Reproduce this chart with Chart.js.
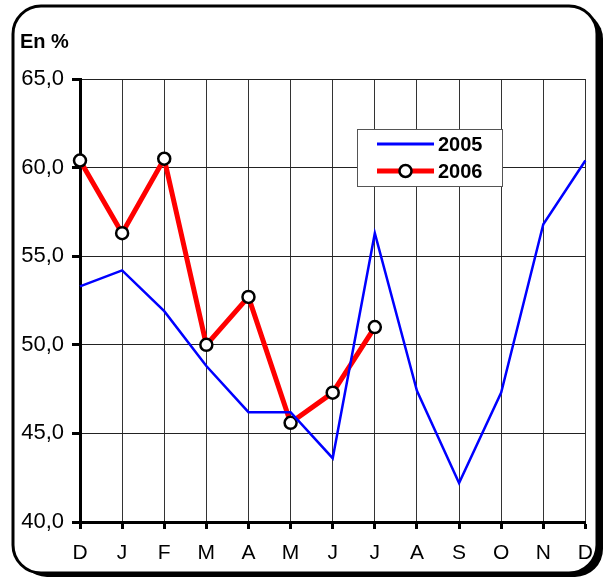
<!DOCTYPE html>
<html>
<head>
<meta charset="utf-8">
<script src="https://cdn.jsdelivr.net/npm/chart.js@4"></script>
<style>
  html, body { margin: 0; padding: 0; background: #fff; }
  #wrap { width: 605px; height: 578px; position: relative; }
</style>
</head>
<body>
<div id="wrap"><canvas id="unemploymentChart"></canvas></div>
<script>
const months = ["D", "J", "F", "M", "A", "M", "J", "J", "A", "S", "O", "N", "D"];
const values2005 = [53.3, 54.2, 51.9, 48.8, 46.2, 46.2, 43.6, 56.3, 47.4, 42.2, 47.3, 56.8, 60.4];
const values2006 = [60.4, 56.3, 60.5, 50.0, 52.7, 45.6, 47.3, 51.0];
const seriesNames = ["2005", "2006"];
const yMin = 40, yMax = 65, yStep = 5;
const unitLabel = "En %";

// rounded frame with black shadow behind the whole chart
const framePlugin = {
  id: "frame",
  beforeDraw: (chart) => {
    const ctx = chart.ctx;
    ctx.save();
    ctx.fillStyle = "#000";
    ctx.beginPath();
    ctx.roundRect(19, 11, 584, 566, 28);
    ctx.fill();
    ctx.fillStyle = "#fff";
    ctx.strokeStyle = "#000";
    ctx.lineWidth = 3;
    ctx.beginPath();
    ctx.roundRect(13, 6, 584, 567, 28);
    ctx.fill();
    ctx.stroke();
    // unit label
    ctx.fillStyle = "#000";
    ctx.font = "bold 20px 'Liberation Sans', Arial, sans-serif";
    ctx.textBaseline = "alphabetic";
    ctx.fillText(unitLabel, 20, 48);
    ctx.restore();
  },
};

// legend box drawn inside the plot area
const boxLegend = {
  id: "boxLegend",
  afterDatasetsDraw: (chart) => {
    const ctx = chart.ctx;
    const x0 = 357, y0 = 129, w = 145, h = 57;
    ctx.save();
    ctx.fillStyle = "#fff";
    ctx.fillRect(x0, y0, w, h);
    ctx.strokeStyle = "#555";
    ctx.lineWidth = 1;
    ctx.strokeRect(x0 + 0.5, y0 + 0.5, w, h);
    ctx.font = "bold 20px 'Liberation Sans', Arial, sans-serif";
    ctx.textBaseline = "middle";
    chart.data.datasets.forEach((ds, i) => {
      const y = y0 + 15 + i * 27;
      ctx.strokeStyle = ds.borderColor;
      ctx.lineWidth = i === 0 ? 3 : 5;
      ctx.beginPath();
      ctx.moveTo(377, y);
      ctx.lineTo(434, y);
      ctx.stroke();
      if (ds.pointRadius > 0) {
        ctx.beginPath();
        ctx.arc(405.5, y, 6, 0, Math.PI * 2);
        ctx.fillStyle = "#fff";
        ctx.fill();
        ctx.lineWidth = 2.5;
        ctx.strokeStyle = "#000";
        ctx.stroke();
      }
      ctx.fillStyle = "#000";
      ctx.fillText(ds.label, 438, y + 1);
    });
    ctx.restore();
  },
};

const ctx = document.getElementById("unemploymentChart").getContext("2d");
const unemploymentChart = new Chart(ctx, {
  type: "line",
  data: {
    labels: months,
    datasets: [
      {
        label: seriesNames[0],
        data: values2005,
        borderColor: "#0000FF",
        borderWidth: 2.5,
        pointRadius: 0,
        tension: 0,
      },
      {
        label: seriesNames[1],
        data: values2006,
        borderColor: "#FF0000",
        borderWidth: 5,
        pointRadius: 6,
        pointBackgroundColor: "#fff",
        pointBorderColor: "#000",
        pointBorderWidth: 2.5,
        tension: 0,
      },
    ],
  },
  options: {
    responsive: true,
    maintainAspectRatio: false,
    animation: false,
    layout: { padding: { left: 0, right: 19, top: 79, bottom: 0 } },
    plugins: {
      legend: { display: false },
      tooltip: { enabled: false },
    },
    scales: {
      x: {
        offset: false,
        grid: {
          color: "#333",
          lineWidth: 1,
          tickLength: 7,
          tickColor: "#000",
          tickWidth: 3,
        },
        border: { color: "#000", width: 3 },
        ticks: {
          color: "#000",
          padding: 12,
          autoSkip: false,
          maxRotation: 0,
          font: { family: "'Liberation Sans', Arial, sans-serif", size: 21 },
        },
        afterFit: (scale) => { scale.height = 56; },
      },
      y: {
        min: yMin,
        max: yMax,
        grid: {
          color: "#222",
          lineWidth: 1,
          tickLength: 8,
          tickColor: "#000",
          tickWidth: 3,
        },
        border: { color: "#000", width: 3 },
        ticks: {
          stepSize: yStep,
          color: "#000",
          padding: 8,
          font: { family: "'Liberation Sans', Arial, sans-serif", size: 22 },
          callback: function (value) {
            return value.toFixed(1).replace(".", ",");
          },
        },
        afterFit: (scale) => { scale.width = 80; },
      },
    },
  },
  plugins: [framePlugin, boxLegend],
});
</script>
</body>
</html>
